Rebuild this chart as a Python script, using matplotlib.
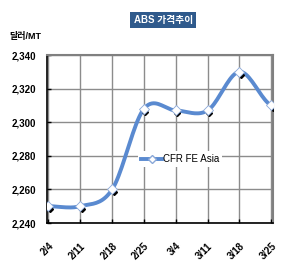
import matplotlib
matplotlib.use("Agg")
import matplotlib.pyplot as plt
import matplotlib.transforms as mtransforms
import numpy as np

plt.rcParams['font.family'] = ['Liberation Sans', 'Noto Sans CJK KR', 'DejaVu Sans']

# data
dates = ["2/4", "2/11", "2/18", "2/25", "3/4", "3/11", "3/18", "3/25"]
prices = [2250, 2250, 2260, 2308, 2307, 2307, 2330, 2310]
series_name = "CFR FE Asia"
title = "ABS 가격추이"
unit = "달러/MT"
yticks = [2240, 2260, 2280, 2300, 2320, 2340]

line_color = "#5a8ad0"


def smooth(x, y, n=20):
    # Catmull-Rom curve through the points (similar to Excel smoothed line)
    x = np.asarray(x, float)
    y = np.asarray(y, float)
    px = np.concatenate([[2 * x[0] - x[1]], x, [2 * x[-1] - x[-2]]])
    py = np.concatenate([[y[0]], y, [y[-1]]])
    xs, ys = [], []
    for i in range(1, len(px) - 2):
        t = np.linspace(0, 1, n, endpoint=False)
        for p, out in ((px, xs), (py, ys)):
            p0, p1, p2, p3 = p[i - 1], p[i], p[i + 1], p[i + 2]
            out.extend(0.5 * ((2 * p1) + (-p0 + p2) * t
                              + (2 * p0 - 5 * p1 + 4 * p2 - p3) * t ** 2
                              + (-p0 + 3 * p1 - 3 * p2 + p3) * t ** 3))
    xs.append(x[-1])
    ys.append(y[-1])
    return np.array(xs), np.array(ys)


fig = plt.figure(figsize=(2.95, 2.75), dpi=100, facecolor="white")
ax = fig.add_axes([0.159, 0.189, 0.766, 0.611])

x = np.arange(len(dates))
sx, sy = smooth(x, prices)

ax.plot(sx, sy, color=line_color, lw=2.8, solid_capstyle="round", zorder=3)

shadow = mtransforms.offset_copy(ax.transData, fig=fig, x=1.5, y=-3, units="dots")
ax.plot(x, prices, ls="none", marker="D", ms=3, color="black", transform=shadow, zorder=4)
ax.plot(x, prices, ls="none", marker="D", ms=5, mfc="white", mec="#8aa8d8",
        mew=0.6, zorder=5)

ax.set_xlim(-0.05, len(dates) - 1 + 0.05)
ax.set_ylim(yticks[0], yticks[-1])
ax.set_yticks(yticks)
ax.set_yticklabels([f"{v:,}" for v in yticks])
ax.set_xticks(x)
ax.set_xticklabels(dates, rotation=45, ha="right", rotation_mode="anchor")

ax.grid(True, color="#8c8c8c", lw=1.0)
ax.set_axisbelow(True)
for side in ("top", "right"):
    ax.spines[side].set_color("#808080")
    ax.spines[side].set_linewidth(1.5)
for side in ("left", "bottom"):
    ax.spines[side].set_color("black")
    ax.spines[side].set_linewidth(1.2)

ax.tick_params(axis="both", labelsize=7, length=3, width=1, direction="in")
ax.tick_params(axis="y", pad=8)
ax.tick_params(axis="x", pad=13)
for lab in ax.get_xticklabels() + ax.get_yticklabels():
    lab.set_fontweight("bold")

leg_handle = ax.plot([], [], color=line_color, lw=2.8, marker="D", ms=4,
                     mfc="white", mec="#8aa8d8", label=series_name)[0]
leg = ax.legend(handles=[leg_handle], loc="center", bbox_to_anchor=(0.59, 0.38),
                frameon=True, fontsize=7, handlelength=2.2, handletextpad=0.1,
                borderpad=0.3, framealpha=1)
leg.get_frame().set_edgecolor("white")
leg.get_frame().set_linewidth(0)

fig.text(0.553, 0.927, title, ha="center", va="center", color="white",
         fontsize=7, fontweight="bold",
         bbox=dict(boxstyle="square,pad=0.35", fc="#2f5a8c", ec="none"))
fig.text(0.03, 0.868, unit, ha="left", va="center", fontsize=6.5, fontweight="bold")

fig.savefig("out.png", dpi=100, facecolor="white")
